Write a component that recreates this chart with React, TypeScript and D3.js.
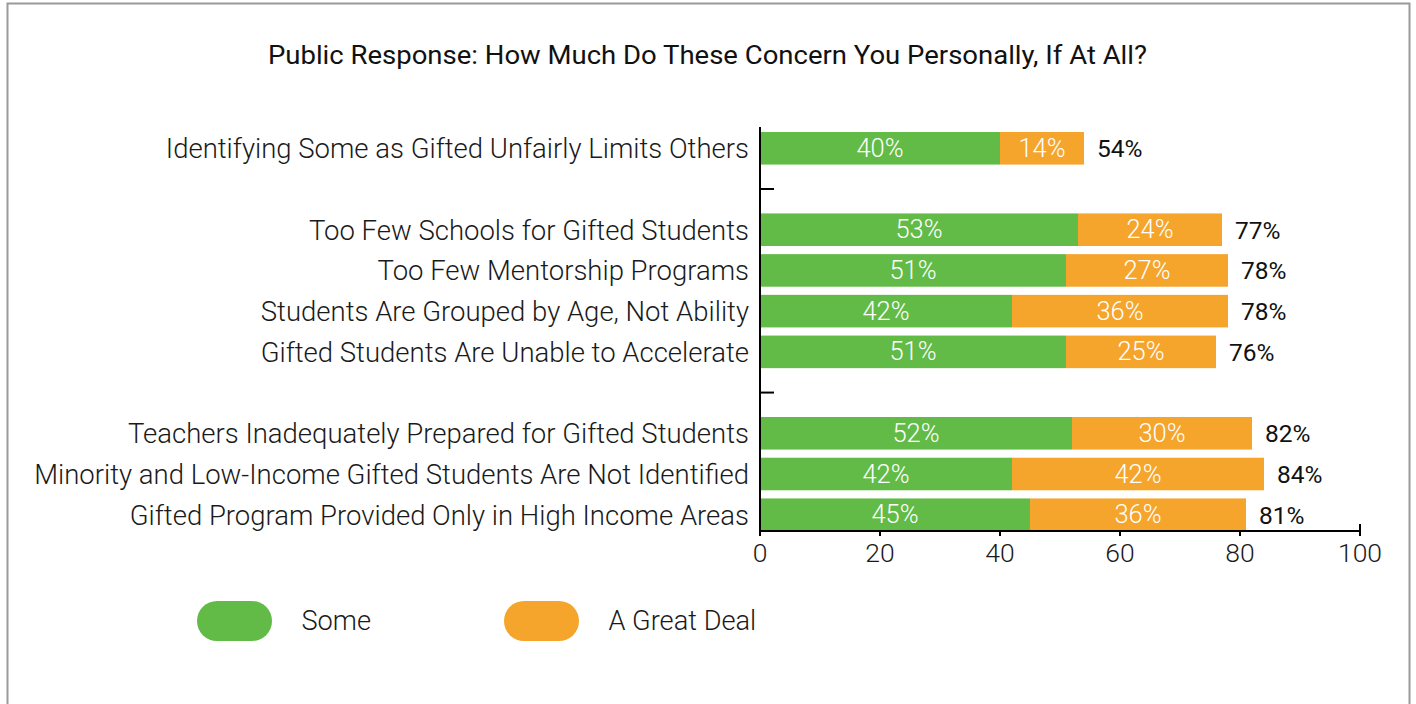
import React from "react";
import * as d3 from "d3";

const title = "Public Response: How Much Do These Concern You Personally, If At All?";
const rowKeys = ["r1", "gap1", "r2", "r3", "r4", "r5", "gap2", "r6", "r7", "r8"];
const categories = [
  "Identifying Some as Gifted Unfairly Limits Others",
  "",
  "Too Few Schools for Gifted Students",
  "Too Few Mentorship Programs",
  "Students Are Grouped by Age, Not Ability",
  "Gifted Students Are Unable to Accelerate",
  "",
  "Teachers Inadequately Prepared for Gifted Students",
  "Minority and Low-Income Gifted Students Are Not Identified",
  "Gifted Program Provided Only in High Income Areas",
];
const someValues: (number | null)[] = [40, null, 53, 51, 42, 51, null, 52, 42, 45];
const greatDealValues: (number | null)[] = [14, null, 24, 27, 36, 25, null, 30, 42, 36];
const xTicks = [0, 20, 40, 60, 80, 100];
const seriesNames = ["Some", "A Great Deal"];
const seriesColors = ["#62bb47", "#f5a42c"];

const FONT = "Roboto, 'Noto Sans', sans-serif";

export default function App() {
  const W = 1416;
  const H = 704;
  const x = d3.scaleLinear().domain([0, 100]).range([760, 1360]);
  const y = d3.scaleBand<string>().domain(rowKeys).range([132, 531]).paddingInner(0.2).paddingOuter(0);
  const bw = y.bandwidth();
  const axisY = 531;
  const gapKeys = rowKeys.filter((k, i) => someValues[i] === null);

  return (
    <svg
      width={W}
      height={H}
      style={{ position: "fixed", left: 0, top: 0, background: "#fff" }}
      fontFamily={FONT}
    >
      <rect x={7.5} y={3.5} width={1402} height={720} fill="#fff" stroke="#9a9a9a" strokeWidth={2} />
      <text
        x={707.5}
        y={64}
        textAnchor="middle"
        fontSize={26}
        fontWeight={400}
        fill="#111"
        textLength={879}
        lengthAdjust="spacingAndGlyphs"
      >
        {title}
      </text>

      {rowKeys.map((k, i) => {
        const s = someValues[i];
        const g = greatDealValues[i];
        if (s === null || g === null) return null;
        const y0 = y(k)!;
        const cy = y0 + bw / 2;
        const total = s + g;
        return (
          <g key={k}>
            <text x={749} y={cy + 10} textAnchor="end" fontSize={27.5} fontWeight={300} fill="#1a1a1a">
              {categories[i]}
            </text>
            <rect x={x(0)} y={y0} width={x(s) - x(0)} height={bw} fill={seriesColors[0]} />
            <rect x={x(s)} y={y0} width={x(s + g) - x(s)} height={bw} fill={seriesColors[1]} />
            <text x={(x(0) + x(s)) / 2} y={cy + 8.5} textAnchor="middle" fontSize={25.5} fontWeight={300} fill="#fff">
              {s}%
            </text>
            <text x={(x(s) + x(s + g)) / 2} y={cy + 8.5} textAnchor="middle" fontSize={25.5} fontWeight={300} fill="#fff">
              {g}%
            </text>
            <text x={x(total) + 13} y={cy + 9} textAnchor="start" fontSize={24.5} fontWeight={400} fill="#111">
              {total}%
            </text>
          </g>
        );
      })}

      {/* y axis */}
      <line x1={x(0)} x2={x(0)} y1={127} y2={axisY + 1} stroke="#000" strokeWidth={2} />
      {gapKeys.map((k) => {
        const cy = y(k)! + bw / 2;
        return <line key={k} x1={x(0)} x2={x(0) + 14} y1={cy} y2={cy} stroke="#000" strokeWidth={2} />;
      })}

      {/* x axis */}
      <line x1={x(0) - 1} x2={x(100) + 1} y1={axisY} y2={axisY} stroke="#000" strokeWidth={2} />
      {xTicks.map((t) => (
        <g key={t}>
          <line
            x1={x(t)}
            x2={x(t)}
            y1={t === 100 ? axisY - 7 : axisY}
            y2={axisY + 5}
            stroke="#000"
            strokeWidth={2}
          />
          <text x={x(t)} y={562} textAnchor="middle" fontSize={26.5} fontWeight={300} fill="#1a1a1a">
            {t}
          </text>
        </g>
      ))}

      {/* legend */}
      {seriesNames.map((n, i) => {
        const lx = 197 + i * 307;
        return (
          <g key={n}>
            <rect x={lx} y={601} width={75} height={40} rx={20} ry={20} fill={seriesColors[i]} />
            <text x={lx + 104.5} y={630} fontSize={27.2} fontWeight={300} fill="#1a1a1a">
              {n}
            </text>
          </g>
        );
      })}
    </svg>
  );
}
